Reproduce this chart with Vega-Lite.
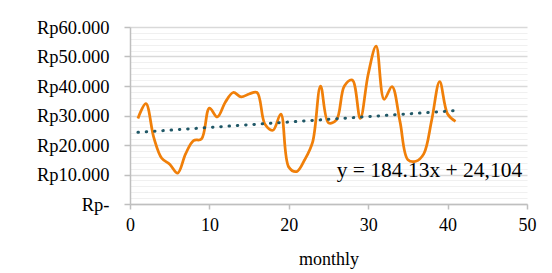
{
  "$schema": "https://vega.github.io/schema/vega-lite/v6.json",
  "width": 397,
  "height": 177,
  "autosize": "none",
  "padding": {"left": 130, "top": 27, "right": 25, "bottom": 69},
  "background": "white",
  "config": {"view": {"stroke": null}, "font": "Liberation Serif"},
  "datasets": {
    "sales": [
      {"month": 1, "value": 29000}, {"month": 2, "value": 34000}, {"month": 3, "value": 22500},
      {"month": 4, "value": 15500}, {"month": 5, "value": 13500}, {"month": 6, "value": 10500},
      {"month": 7, "value": 17000}, {"month": 8, "value": 21500}, {"month": 9, "value": 22000},
      {"month": 10, "value": 32500}, {"month": 11, "value": 29500}, {"month": 12, "value": 34500},
      {"month": 13, "value": 37800}, {"month": 14, "value": 36300}, {"month": 15, "value": 37300},
      {"month": 16, "value": 37800}, {"month": 17, "value": 27000}, {"month": 18, "value": 25000},
      {"month": 19, "value": 30500}, {"month": 20, "value": 12500}, {"month": 21, "value": 11000},
      {"month": 22, "value": 15000}, {"month": 23, "value": 21000}, {"month": 24, "value": 40000},
      {"month": 25, "value": 27500}, {"month": 26, "value": 28500}, {"month": 27, "value": 40000},
      {"month": 28, "value": 42000}, {"month": 29, "value": 29000}, {"month": 30, "value": 44000},
      {"month": 31, "value": 53500}, {"month": 32, "value": 35500}, {"month": 33, "value": 39800},
      {"month": 34, "value": 28000}, {"month": 35, "value": 15000}, {"month": 36, "value": 14500},
      {"month": 37, "value": 17000}, {"month": 38, "value": 28500}, {"month": 39, "value": 41500},
      {"month": 40, "value": 30500}, {"month": 41, "value": 28000}
    ],
    "trend": [{"month": 1, "value": 24288}, {"month": 41, "value": 31653}],
    "label": [{"month": 49.4, "value": 9270, "text": "y = 184.13x + 24,104"}]
  },
  "encoding": {
    "x": {
      "field": "month", "type": "quantitative",
      "scale": {"domain": [0, 50], "nice": false},
      "axis": {
        "values": [0, 10, 20, 30, 40, 50], "grid": false, "title": "monthly",
        "titleFontSize": 18, "titleFontWeight": "normal", "titleColor": "#000", "titleFont": "Liberation Serif",
        "titlePadding": 16,
        "labelFontSize": 18, "labelColor": "#000", "labelFont": "Liberation Serif", "labelPadding": 7,
        "labelFlush": false, "labelBound": false,
        "tickSize": 5, "tickColor": "#bfbfbf", "tickWidth": 1.5, "domainColor": "#bfbfbf", "domainWidth": 1.5
      }
    },
    "y": {
      "field": "value", "type": "quantitative",
      "scale": {"domain": [0, 60000], "nice": false},
      "axis": {
        "values": [0, 2000, 4000, 6000, 8000, 10000, 12000, 14000, 16000, 18000, 20000, 22000, 24000, 26000, 28000, 30000, 32000, 34000, 36000, 38000, 40000, 42000, 44000, 46000, 48000, 50000, 52000, 54000, 56000, 58000, 60000],
        "title": null,
        "labelExpr": "datum.value % 10000 === 0 ? (datum.value === 0 ? 'Rp-' : 'Rp' + replace(format(datum.value, ','), ',', '.')) : ''",
        "labelOverlap": false, "labelFlush": false,
        "labelFontSize": 18.5, "labelColor": "#000", "labelFont": "Liberation Serif", "labelPadding": 15,
        "gridColor": {"condition": {"test": "datum.value % 10000 === 0", "value": "#d9d9d9"}, "value": "#f0f0f0"},
        "gridWidth": {"condition": {"test": "datum.value % 10000 === 0", "value": 1.5}, "value": 1.2},
        "tickOpacity": {"condition": {"test": "datum.value % 10000 === 0", "value": 1}, "value": 0},
        "tickSize": 6, "tickColor": "#bfbfbf", "tickWidth": 1.5, "domainColor": "#bfbfbf", "domainWidth": 1.5
      }
    }
  },
  "layer": [
    {
      "data": {"name": "sales"},
      "mark": {"type": "line", "interpolate": "catmull-rom", "color": "#F07F09", "strokeWidth": 2.75}
    },
    {
      "data": {"name": "trend"},
      "mark": {"type": "line", "color": "#205867", "strokeWidth": 3, "strokeDash": [0.5, 7.8], "strokeCap": "round"}
    },
    {
      "data": {"name": "label"},
      "mark": {"type": "text", "align": "right", "baseline": "alphabetic", "fontSize": 21.5, "font": "Liberation Serif", "color": "#000"},
      "encoding": {"text": {"field": "text"}}
    }
  ]
}
